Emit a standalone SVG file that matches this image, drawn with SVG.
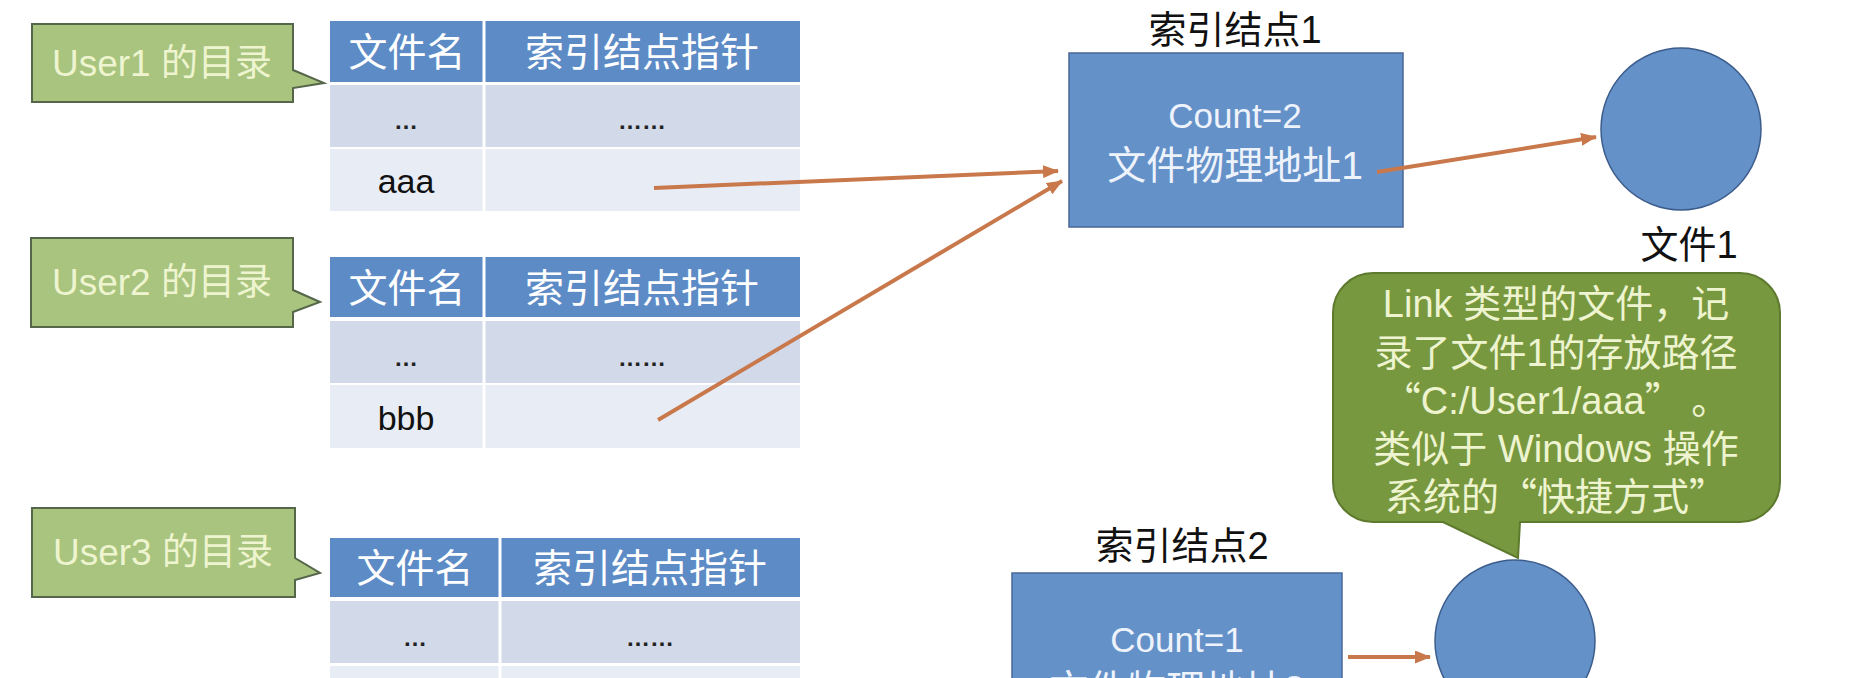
<svg xmlns="http://www.w3.org/2000/svg" width="1858" height="678" viewBox="0 0 1858 678">
<style>
.callout{fill:#a8c47e;stroke:#55664a;stroke-width:2}
.ctext{font-family:"Liberation Sans","Noto Sans CJK SC",sans-serif;font-size:37px;fill:#eef4cf;text-anchor:middle}
.hdr{fill:#5d8bc6}
.r1{fill:#d2d9e8}
.r2{fill:#e8ecf4}
.sep{stroke:#ffffff;stroke-width:3}
.htext{font-family:"Liberation Sans","Noto Sans CJK SC",sans-serif;font-size:39px;fill:#ffffff;text-anchor:middle}
.dtext{font-family:"Liberation Sans","Noto Sans CJK SC",sans-serif;font-size:34px;fill:#111111;text-anchor:middle}
.dots{font-family:"Liberation Sans",sans-serif;font-size:24px;font-weight:bold;fill:#222222;text-anchor:middle}
.box{fill:#6591c9;stroke:#46689a;stroke-width:1.5}
.btext{font-family:"Liberation Sans","Noto Sans CJK SC",sans-serif;fill:#eef3fb;text-anchor:middle}
.label{font-family:"Liberation Sans","Noto Sans CJK SC",sans-serif;font-size:38px;fill:#111111;text-anchor:middle}
.file{fill:#6591c9;stroke:#3c5d8c;stroke-width:1.5}
.bubble{fill:#78983f;stroke:#5d7a2e;stroke-width:2}
.bt{font-family:"Liberation Sans","Noto Sans CJK SC",sans-serif;font-size:38px;fill:#eef4cf;text-anchor:middle}
.cjk{font-family:"Noto Sans CJK SC",sans-serif}
.arrow{stroke:#c8784a;stroke-width:4;fill:none;marker-end:url(#ah)}
</style>
<defs>
<marker id="ah" viewBox="0 0 16 13" refX="15" refY="6.5" markerWidth="16" markerHeight="13" markerUnits="userSpaceOnUse" orient="auto">
<path d="M0,0 L16,6.5 L0,13 z" fill="#c8784a"/>
</marker>
</defs>
<rect width="1858" height="678" fill="#ffffff"/>

<g id="user1-label">
<polygon class="callout" points="32,24 293,24 293,70 324,83 293,88 293,102 32,102"/>
<text class="ctext" x="162" y="76">User1 的目录</text>
</g>
<g id="user1-table">
<rect class="hdr" x="330" y="21" width="470" height="61"/>
<rect class="r1" x="330" y="85" width="470" height="62"/>
<rect class="r2" x="330" y="149" width="470" height="62"/>
<line class="sep" x1="484" y1="21" x2="484" y2="211"/>
<text class="htext" x="407" y="66">文件名</text>
<text class="htext" x="642" y="66">索引结点指针</text>
<text class="dots" x="406" y="129">…</text>
<text class="dots" x="642" y="129">……</text>
<text class="dtext" x="406" y="193">aaa</text>
</g>

<g id="user2-label">
<polygon class="callout" points="31,238 293,238 293,290 320,302 293,312 293,327 31,327"/>
<text class="ctext" x="162" y="295">User2 的目录</text>
</g>
<g id="user2-table">
<rect class="hdr" x="330" y="257" width="470" height="60"/>
<rect class="r1" x="330" y="321" width="470" height="62"/>
<rect class="r2" x="330" y="385" width="470" height="63"/>
<line class="sep" x1="484" y1="257" x2="484" y2="448"/>
<text class="htext" x="407" y="302">文件名</text>
<text class="htext" x="642" y="302">索引结点指针</text>
<text class="dots" x="406" y="366">…</text>
<text class="dots" x="642" y="366">……</text>
<text class="dtext" x="406" y="430">bbb</text>
</g>

<g id="user3-label">
<polygon class="callout" points="32,508 295,508 295,558 320,573 295,580 295,597 32,597"/>
<text class="ctext" x="163" y="565">User3 的目录</text>
</g>
<g id="user3-table">
<rect class="hdr" x="330" y="538" width="470" height="59"/>
<rect class="r1" x="330" y="601" width="470" height="62"/>
<rect class="r2" x="330" y="666" width="470" height="62"/>
<line class="sep" x1="500" y1="538" x2="500" y2="728"/>
<text class="htext" x="415" y="582">文件名</text>
<text class="htext" x="650" y="582">索引结点指针</text>
<text class="dots" x="415" y="646">…</text>
<text class="dots" x="650" y="646">……</text>
</g>

<g id="inode1">
<text class="label" x="1235" y="43">索引结点1</text>
<rect class="box" x="1069" y="53" width="334" height="174"/>
<text class="btext" x="1235" y="128" font-size="35">Count=2</text>
<text class="btext" x="1235" y="179" font-size="39">文件物理地址1</text>
</g>

<g id="file1">
<ellipse class="file" cx="1681" cy="129" rx="80" ry="81"/>
<text class="label" x="1689" y="258">文件1</text>
</g>

<g id="link-note">
<path class="bubble" d="M1373,273 H1740 A40,40 0 0 1 1780,313 V482 A40,40 0 0 1 1740,522 H1520 L1518,558 L1443,522 H1373 A40,40 0 0 1 1333,482 V313 A40,40 0 0 1 1373,273 Z"/>
<text class="bt" x="1556" y="317">Link 类型的文件，记</text>
<text class="bt" x="1556" y="366">录了文件1的存放路径</text>
<text class="bt" x="1556" y="414"><tspan class="cjk">“</tspan>C:/User1/aaa<tspan class="cjk">” 。</tspan></text>
<text class="bt" x="1556" y="462">类似于 Windows 操作</text>
<text class="bt" x="1556" y="510">系统的<tspan class="cjk">“</tspan>快捷方式<tspan class="cjk">”</tspan></text>
</g>

<g id="inode2">
<text class="label" x="1182" y="559">索引结点2</text>
<rect class="box" x="1012" y="573" width="330" height="174"/>
<text class="btext" x="1177" y="652" font-size="35">Count=1</text>
<text class="btext" x="1177" y="703" font-size="39">文件物理地址2</text>
</g>

<g id="file2">
<ellipse class="file" cx="1515" cy="641" rx="80" ry="81"/>
</g>

<g id="connectors">
<line class="arrow" x1="654" y1="188" x2="1058" y2="171"/>
<line class="arrow" x1="658" y1="420" x2="1062" y2="181"/>
<line class="arrow" x1="1377" y1="172" x2="1596" y2="137"/>
<line class="arrow" x1="1348" y1="657" x2="1430" y2="657"/>
</g>
</svg>
